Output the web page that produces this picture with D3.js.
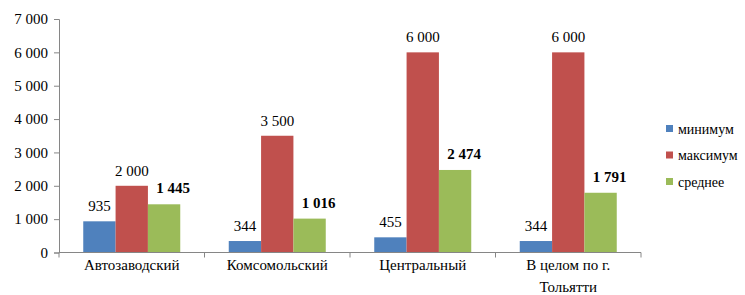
<!DOCTYPE html>
<html lang="ru">
<head>
<meta charset="UTF-8">
<script src="https://d3js.org/d3.v7.min.js"></script>
<style>
  body { margin: 0; background: #fff; }
</style>
</head>
<body>
<svg id="chart"></svg>
<script>
var categories = ["Автозаводский", "Комсомольский", "Центральный", "В целом по г. Тольятти"];
var seriesNames = ["минимум", "максимум", "среднее"];
var minValues = [935, 344, 455, 344];
var maxValues = [2000, 3500, 6000, 6000];
var avgValues = [1445, 1016, 2474, 1791];
var yTicks = [0, 1000, 2000, 3000, 4000, 5000, 6000, 7000];
var colors = ["#4F81BD", "#C0504D", "#9BBB59"];

const width = 745, height = 295;
const margin = {top: 19, left: 59, right: 104, bottom: 42.5};
const serif = "Liberation Serif";
const svg = d3.select("#chart").attr("width", width).attr("height", height)
    .style("font-family", serif);

const series = [minValues, maxValues, avgValues];
const fmt = v => d3.format(",")(v).replace(/,/g, " ");

const x = d3.scaleBand().domain(categories)
    .range([margin.left, width - margin.right]).paddingInner(0).paddingOuter(0);
const xs = d3.scaleBand().domain(seriesNames)
    .range([0, x.bandwidth()]).paddingOuter(0.75).paddingInner(0);
const y = d3.scaleLinear().domain([0, 7000]).range([height - margin.bottom, margin.top]);

// bars + value labels (average labels are bold and sit a bit to the right)
seriesNames.forEach((s, si) => {
  svg.append("g").selectAll("rect").data(series[si]).enter().append("rect")
    .attr("x", (d, i) => x(categories[i]) + xs(s))
    .attr("y", d => y(d))
    .attr("width", xs.bandwidth())
    .attr("height", d => y(0) - y(d))
    .attr("fill", colors[si]);
  svg.append("g").selectAll("text").data(series[si]).enter().append("text")
    .attr("x", (d, i) => x(categories[i]) + xs(s) + xs.bandwidth() / 2 + (si == 2 ? 9 : 0))
    .attr("y", d => y(d) - (si == 2 ? 11 : 10))
    .attr("text-anchor", "middle")
    .style("font-family", serif)
    .style("font-size", "15px")
    .style("font-weight", si == 2 ? "bold" : "normal")
    .text(d => fmt(d));
});

// y axis
const yAxis = d3.axisLeft(y).tickValues(yTicks).tickSize(5).tickPadding(6).tickFormat(fmt);
svg.append("g").attr("transform", `translate(${margin.left},0)`).call(yAxis)
  .attr("font-family", serif)
  .call(g => g.selectAll("path,line").attr("stroke", "#868686"))
  .call(g => g.selectAll("text").attr("fill", "#000").style("font-family", serif).style("font-size", "15px"));

// x axis
const xg = svg.append("g").attr("transform", `translate(0,${y(0)})`);
xg.append("line").attr("x1", margin.left).attr("x2", width - margin.right)
  .attr("stroke", "#868686");
xg.selectAll("line.tick").data(categories.concat([null])).enter().append("line")
  .attr("x1", (d, i) => i < categories.length ? x(d) : x.range()[1])
  .attr("x2", (d, i) => i < categories.length ? x(d) : x.range()[1])
  .attr("y1", 0).attr("y2", 5).attr("stroke", "#868686");
const catLabels = [["Автозаводский"], ["Комсомольский"], ["Центральный"], ["В целом по г.", "Тольятти"]];
xg.selectAll("text.cat").data(categories).enter().append("text")
  .attr("x", d => x(d) + x.bandwidth() / 2)
  .attr("y", 17)
  .attr("text-anchor", "middle")
  .style("font-family", serif)
  .style("font-size", "15px")
  .each(function(d, i) {
    catLabels[i].forEach((line, li) => {
      d3.select(this).append("tspan")
        .attr("x", x(d) + x.bandwidth() / 2)
        .attr("dy", li == 0 ? 0 : 22)
        .text(line);
    });
  });

// legend
const lg = svg.append("g").attr("transform", "translate(666,129)");
seriesNames.forEach((s, i) => {
  lg.append("rect").attr("x", 0).attr("y", i * 26.5 - 4).attr("width", 7).attr("height", 7)
    .attr("fill", colors[i]);
  lg.append("text").attr("x", 12).attr("y", i * 26.5 + 4.5)
    .style("font-family", serif).style("font-size", "14px").text(s);
});
</script>
</body>
</html>
